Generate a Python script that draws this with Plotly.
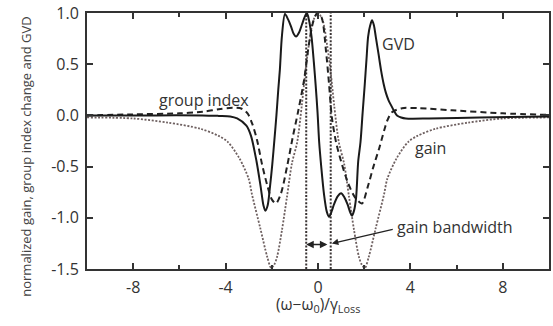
import plotly.graph_objects as go

# ---------------- data ----------------
gvd_x = [-10, -7, -5, -4.3, -3.8, -3.5, -3.1, -2.9, -2.66, -2.48, -2.36, -2.28, -2.18, -2.08,
         -1.98, -1.88, -1.8, -1.72, -1.65, -1.56, -1.43, -1.3, -1.17, -1.06, -0.95, -0.82, -0.69,
         -0.58, -0.48, -0.38, -0.28, -0.18, -0.1, -0.02, 0.05, 0.14, 0.26, 0.38, 0.48, 0.6, 0.69,
         0.85, 1.0, 1.14, 1.28, 1.4, 1.47, 1.56, 1.65, 1.74, 1.84, 1.93, 2.02, 2.1, 2.17, 2.26,
         2.34, 2.42, 2.5, 2.62, 2.73, 2.84, 2.94, 3.05, 3.16, 3.3, 3.42, 3.6, 3.8, 4.8, 7, 10]
gvd_y = [0.0, 0.0, 0.0, -0.005, -0.01, -0.03, -0.1, -0.2, -0.45, -0.7, -0.88, -0.93, -0.88, -0.7,
         -0.48, -0.22, 0.0, 0.25, 0.45, 0.78, 0.99, 0.94, 0.87, 0.8, 0.77, 0.81, 0.89,
         0.96, 1.0, 0.92, 0.77, 0.52, 0.29, 0.03, -0.26, -0.5, -0.77, -0.94, -0.99, -0.93, -0.87,
         -0.79, -0.76, -0.8, -0.87, -0.95, -0.98, -0.93, -0.8, -0.45, -0.26, 0.02, 0.29, 0.55, 0.77, 0.88,
         0.93, 0.88, 0.77, 0.6, 0.44, 0.31, 0.22, 0.15, 0.1, 0.04, 0.0, -0.02, -0.03, -0.03, -0.02, -0.01]

gi_x = [-10, -8, -6, -5, -4.3, -3.7, -3.3, -3.05, -2.85, -2.64, -2.42, -2.2, -2.0, -1.82, -1.6,
        -1.34, -1.1, -0.85, -0.6, -0.39, -0.2, -0.03, 0.15, 0.35, 0.48, 0.6, 0.78, 1.0, 1.3,
        1.6, 1.9, 2.15, 2.4, 2.65, 2.86, 3.0, 3.2, 3.64, 4.4, 5.8, 8, 10]
gi_y = [0.0, 0.01, 0.02, 0.035, 0.06, 0.075, 0.065, 0.02, -0.08, -0.24, -0.48, -0.68, -0.82, -0.86, -0.76,
        -0.5, -0.22, 0.05, 0.35, 0.7, 0.92, 1.0, 0.96, 0.62, 0.3, -0.02, -0.26, -0.45, -0.66,
        -0.8, -0.86, -0.7, -0.5, -0.32, -0.15, -0.05, 0.03, 0.07, 0.07, 0.05, 0.02, 0.005]

gain_x = [-10, -8, -6.5, -5.1, -4.3, -3.9, -3.4, -3.0, -2.86, -2.5, -2.2, -2.03, -1.9, -1.77, -1.56,
          -1.34, -1.13, -0.9, -0.7, -0.55, -0.4, -0.2, 0.0, 0.2, 0.4, 0.55, 0.7, 0.9, 1.13, 1.34,
          1.56, 1.77, 1.9, 2.03, 2.2, 2.5, 2.86, 3.0, 3.4, 3.9, 4.3, 5.1, 6.5, 8, 10]
gain_y = [-0.02, -0.03, -0.07, -0.13, -0.2, -0.26, -0.42, -0.62, -0.77, -1.1, -1.38, -1.49, -1.46, -1.38, -1.12,
          -0.79, -0.47, -0.26, 0.1, 0.42, 0.68, 0.93, 1.0, 0.93, 0.68, 0.42, 0.1, -0.26, -0.47, -0.79,
          -1.12, -1.38, -1.46, -1.49, -1.38, -1.1, -0.77, -0.62, -0.42, -0.26, -0.2, -0.13, -0.07, -0.03, -0.02]

bw_left = -0.51
bw_right = 0.55
bw_level = -1.26

x_ticks = [-8, -4, 0, 4, 8]
y_ticks = [1.0, 0.5, 0.0, -0.5, -1.0, -1.5]
y_tick_text = ["1.0", "0.5", "0.0", "-0.5", "-1.0", "-1.5"]

# ---------------- figure ----------------
FONT = "Open Sans"
TXT = "#333333"
fig = go.Figure()

fig.add_trace(go.Scatter(x=gain_x, y=gain_y, mode="lines",
                         line=dict(color="#6e6060", width=1.8, dash="2px,1.6px", shape="spline", smoothing=0.8)))
for bx in (bw_left, bw_right):
    fig.add_trace(go.Scatter(x=[bx, bx], y=[-1.5, 1.0], mode="lines",
                             line=dict(color="#3a3434", width=2, dash="2px,1.6px")))
fig.add_trace(go.Scatter(x=gi_x, y=gi_y, mode="lines",
                         line=dict(color="#222222", width=2, dash="6px,4px", shape="spline", smoothing=0.8)))
fig.add_trace(go.Scatter(x=gvd_x, y=gvd_y, mode="lines",
                         line=dict(color="#1a1a1a", width=2, shape="spline", smoothing=0.8)))

# text labels
def label(x, y, t):
    fig.add_annotation(x=x, y=y, text=t, showarrow=False, xref="x", yref="y",
                       font=dict(family=FONT, size=16, color=TXT))

label(3.5, 0.70, "GVD")
label(-4.93, 0.15, "group index")
label(4.85, -0.32, "gain")
label(5.93, -1.09, "gain bandwidth")

# double arrow for bandwidth
fig.add_annotation(x=bw_left, y=bw_level, ax=bw_right - 0.08, ay=bw_level, xref="x", yref="y",
                   axref="x", ayref="y", showarrow=True, arrowhead=2, arrowside="end+start",
                   arrowsize=1, arrowwidth=1.5, arrowcolor="#222222", text="")
# leader line
fig.add_annotation(x=0.6, y=-1.25, ax=3.3, ay=-1.11, xref="x", yref="y",
                   axref="x", ayref="y", showarrow=True, arrowhead=2, arrowsize=1,
                   arrowwidth=1.3, arrowcolor="#222222", text="")

# axis titles
fig.add_annotation(xref="paper", yref="paper", x=-0.155, y=0.44, textangle=-90,
                   text="normalized gain, group index change and GVD", showarrow=False,
                   font=dict(family=FONT, size=13, color="#444444"))
fig.add_annotation(xref="paper", yref="paper", x=0.5, y=-0.138, yanchor="middle",
                   text="(ω−ω<sub>0</sub>)/γ<sub>Loss</sub>", showarrow=False,
                   font=dict(family=FONT, size=15.5, color="#333333"))

fig.update_layout(
    width=553, height=326,
    margin=dict(l=87, r=2, t=9, b=57),
    paper_bgcolor="white", plot_bgcolor="white",
    showlegend=False,
    font=dict(family=FONT, color=TXT),
)
fig.update_xaxes(range=[-10, 10], tickvals=x_ticks, ticktext=[str(v) for v in x_ticks],
                 ticks="inside", ticklen=6, tickwidth=1.5, tickcolor="#333333",
                 minor=dict(tickvals=[-6, -2, 2, 6], ticks="inside", ticklen=4, tickwidth=1.5, tickcolor="#333333"),
                 showline=True, linecolor="#333333", linewidth=2, mirror="ticks",
                 showgrid=False, zeroline=False, ticklabeloverflow="allow",
                 tickfont=dict(family=FONT, size=16, color=TXT), ticklabelstandoff=3)
fig.update_yaxes(range=[-1.5, 1.0], tickvals=y_ticks, ticktext=y_tick_text,
                 ticks="inside", ticklen=6, tickwidth=1.5, tickcolor="#333333",
                 showline=True, linecolor="#333333", linewidth=2, mirror="ticks",
                 showgrid=False, zeroline=False, ticklabeloverflow="allow",
                 tickfont=dict(family=FONT, size=16, color=TXT), ticklabelstandoff=3)

fig.write_html("out.html")
